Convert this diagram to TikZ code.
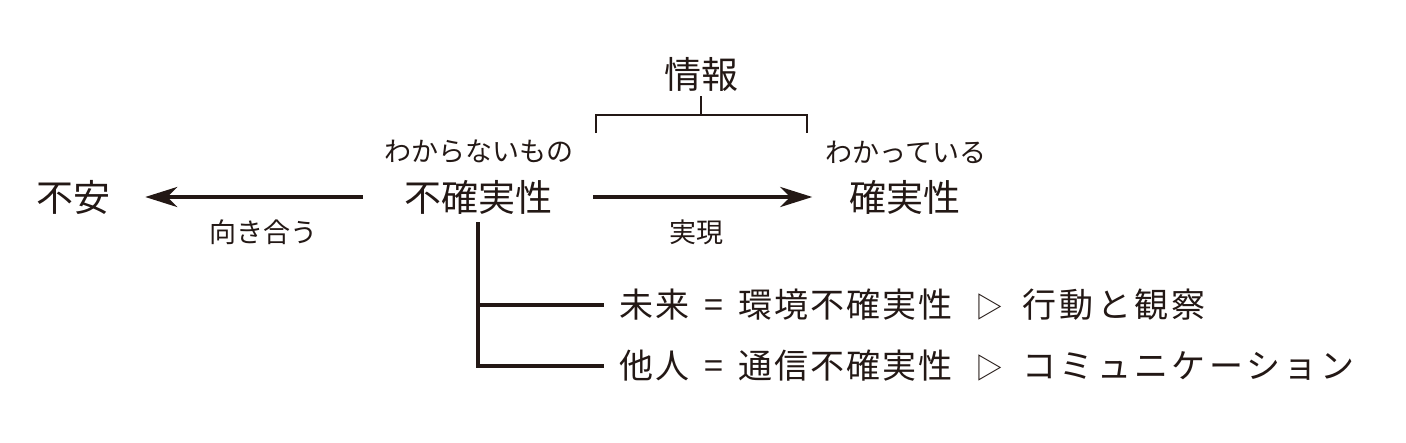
\documentclass[tikz,border=0pt]{standalone}
\usepackage{fontspec}
\setmainfont{Noto Sans CJK JP}
\usetikzlibrary{positioning, arrows.meta}
\definecolor{ink}{HTML}{231815}

\newcommand{\tri}{{\fontsize{28}{30}\selectfont ▷}}
\newcommand{\tail}[1]{{\addfontfeature{LetterSpace=10}#1}}

\begin{document}
\begin{tikzpicture}[x=1pt, y=-1pt, color=ink,
	bigtxt/.style={inner sep=0pt, font=\fontsize{37}{40}\selectfont},
	smalltxt/.style={inner sep=0pt, font=\fontsize{27}{30}\selectfont},
	rowtxt/.style={inner sep=0pt, anchor=west, font=\fontsize{34}{38}\selectfont\addfontfeature{LetterSpace=6}},
	flow/.style={-{Stealth[length=32pt, width=20pt, inset=10pt]}, line width=4.2pt},
	tree/.style={line width=4.4pt},
	bracket/.style={line width=2pt}]
	\useasboundingbox (0,0) rectangle (1406,442);

	% Terms
	\node[bigtxt] (fuan) at (73,197) {不安};
	\node[bigtxt] (fukakujitsu) at (478,197) {不確実性};
	\node[bigtxt] (kakujitsu) at (905,197) {確実性};
	\node[bigtxt] (joho) at (701,74) {情報};

	% Glosses
	\node[smalltxt] (wakaranai) at (479,152) {わからないもの};
	\node[smalltxt] (wakatteiru) at (906,152) {わかっている};
	\node[smalltxt] (mukiau) at (263,232) {向き合う};
	\node[smalltxt] (jitsugen) at (696,232) {実現};

	% Arrows
	\draw[flow, shorten <=41pt, shorten >=35pt] (fukakujitsu) -- (fuan);
	\draw[flow, shorten <=41pt, shorten >=37pt] (fukakujitsu) -- (kakujitsu);

	% Bracket
	\coordinate (brL) at (596,133);
	\coordinate (brR) at (807,133);
	\coordinate (brStem) at (701,96);
	\coordinate (brMid) at (701,115);
	\draw[bracket] (brL) -- ++(0,-18) -| (brR);
	\draw[bracket] (brStem) -- (brMid);

	% Two kinds
	\node[rowtxt] (mirai) at (619,305) {未来\hspace{15pt}=\hspace{15pt}環境不確実性\hspace{23pt}\tri\hspace{19pt}\tail{行動と観察}};
	\node[rowtxt] (tanin) at (619,366) {他人\hspace{15pt}=\hspace{15pt}通信不確実性\hspace{23pt}\tri\hspace{19pt}\tail{コミュニケーション}};

	\draw[tree, shorten <=8pt, shorten >=15pt] (fukakujitsu.south) |- (tanin.west);
	\draw[tree, shorten >=15pt] (fukakujitsu.south |- mirai.west) -- (mirai.west);
\end{tikzpicture}
\end{document}
